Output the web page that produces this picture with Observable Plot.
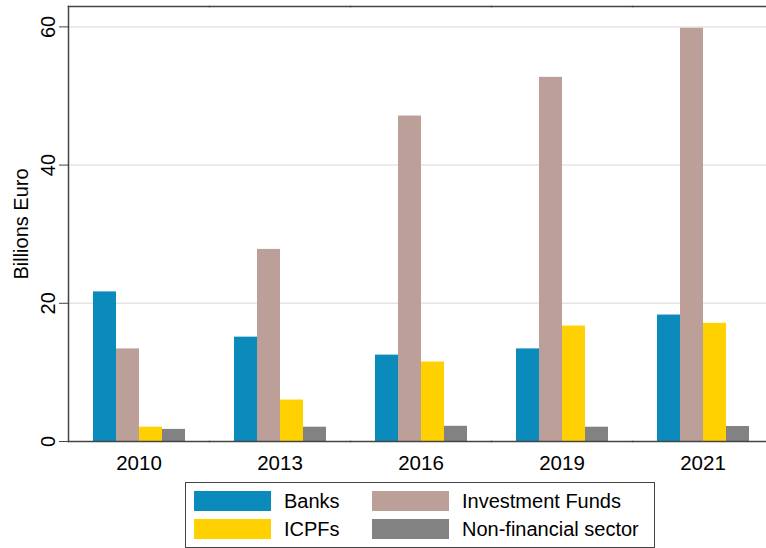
<!DOCTYPE html>
<html><head><meta charset="utf-8">
<script src="https://cdn.jsdelivr.net/npm/d3@7"></script>
<script src="https://cdn.jsdelivr.net/npm/@observablehq/plot@0.6"></script>
<style>
body{margin:0;background:#fff;font-family:"Liberation Sans",Arial,sans-serif;}
#chart{width:766px;height:548px;position:relative;overflow:hidden}
#chart svg{position:absolute;left:0;top:0}
.legend{position:absolute;left:185px;top:482px;width:470px;height:66px;border:1px solid #444;box-sizing:border-box}
.item{position:absolute;display:flex;align-items:center;font-size:20px;color:#000;line-height:20px;white-space:nowrap}
.sw{width:77px;height:20px;margin-right:13px}
</style></head><body><div id="chart"></div>
<script>
const years = ["2010", "2013", "2016", "2019", "2021"];
const series = ["Banks", "Investment Funds", "ICPFs", "Non-financial sector"];
const colors = ["#0a8bbb", "#bd9f99", "#ffd100", "#828282"];
const banks  = [21.65, 15.1, 12.5, 13.4, 18.3];
const funds  = [13.4, 27.8, 47.1, 52.7, 59.8];
const icpfs  = [2.07, 6.0, 11.5, 16.7, 17.1];
const nonfin = [1.75, 2.07, 2.2, 2.07, 2.17];
const yTicks = [0, 20, 40, 60];

const valuesBySeries = [banks, funds, icpfs, nonfin];
const data = years.flatMap((yr, i) => series.map((s, j) => ({year: yr, sector: s, value: valuesBySeries[j][i]})));

const axisColor = "#444";
const plot = Plot.plot({
  width: 766, height: 480,
  marginTop: 6, marginBottom: 39, marginLeft: 66, marginRight: 0,
  style: {fontFamily: "Liberation Sans, Arial, sans-serif", fontSize: "20px", color: "#000", background: "transparent"},
  fx: {domain: years, range: [66, 774], paddingInner: 0, paddingOuter: 0},
  x: {domain: series, paddingInner: 0, paddingOuter: 1, axis: null},
  y: {domain: [0, 62.95]},
  color: {domain: series, range: colors},
  marks: [
    Plot.gridY(yTicks.filter(d => d > 0), {stroke: "#e4e4e4", strokeOpacity: 1, strokeWidth: 1.5}),
    Plot.barY(data, {fx: "year", x: "sector", y: "value", fill: "sector"}),
    Plot.frame({anchor: "top", stroke: axisColor, strokeWidth: 1.5}),
    Plot.frame({anchor: "bottom", stroke: axisColor, strokeWidth: 1.5}),
    Plot.frame({anchor: "left", facetAnchor: "left", stroke: axisColor, strokeWidth: 1.5}),
    Plot.axisY({ticks: yTicks, tickSize: 9, tickPadding: 5, tickRotate: -90, label: "Billions Euro", labelArrow: "none",
      labelAnchor: "center", labelOffset: 55, stroke: axisColor, fill: "#000", fontSize: 20}),
    Plot.axisFx({anchor: "bottom", tickSize: 0, tickPadding: 14, label: null, fontSize: 20.5, fill: "#000"})
  ]
});
const chart = document.getElementById("chart");
chart.appendChild(plot);

// legend (2x2, row-major)
const legend = document.createElement("div");
legend.className = "legend";
const cols = [8, 186], rows = [8, 36];
series.forEach((s, k) => {
  const it = document.createElement("div");
  it.className = "item";
  it.style.left = cols[k % 2] + "px";
  it.style.top = rows[Math.floor(k / 2)] + "px";
  const sw = document.createElement("span");
  sw.className = "sw";
  sw.style.background = colors[k];
  const tx = document.createElement("span");
  tx.textContent = s;
  it.appendChild(sw); it.appendChild(tx);
  legend.appendChild(it);
});
chart.appendChild(legend);
</script></body></html>
